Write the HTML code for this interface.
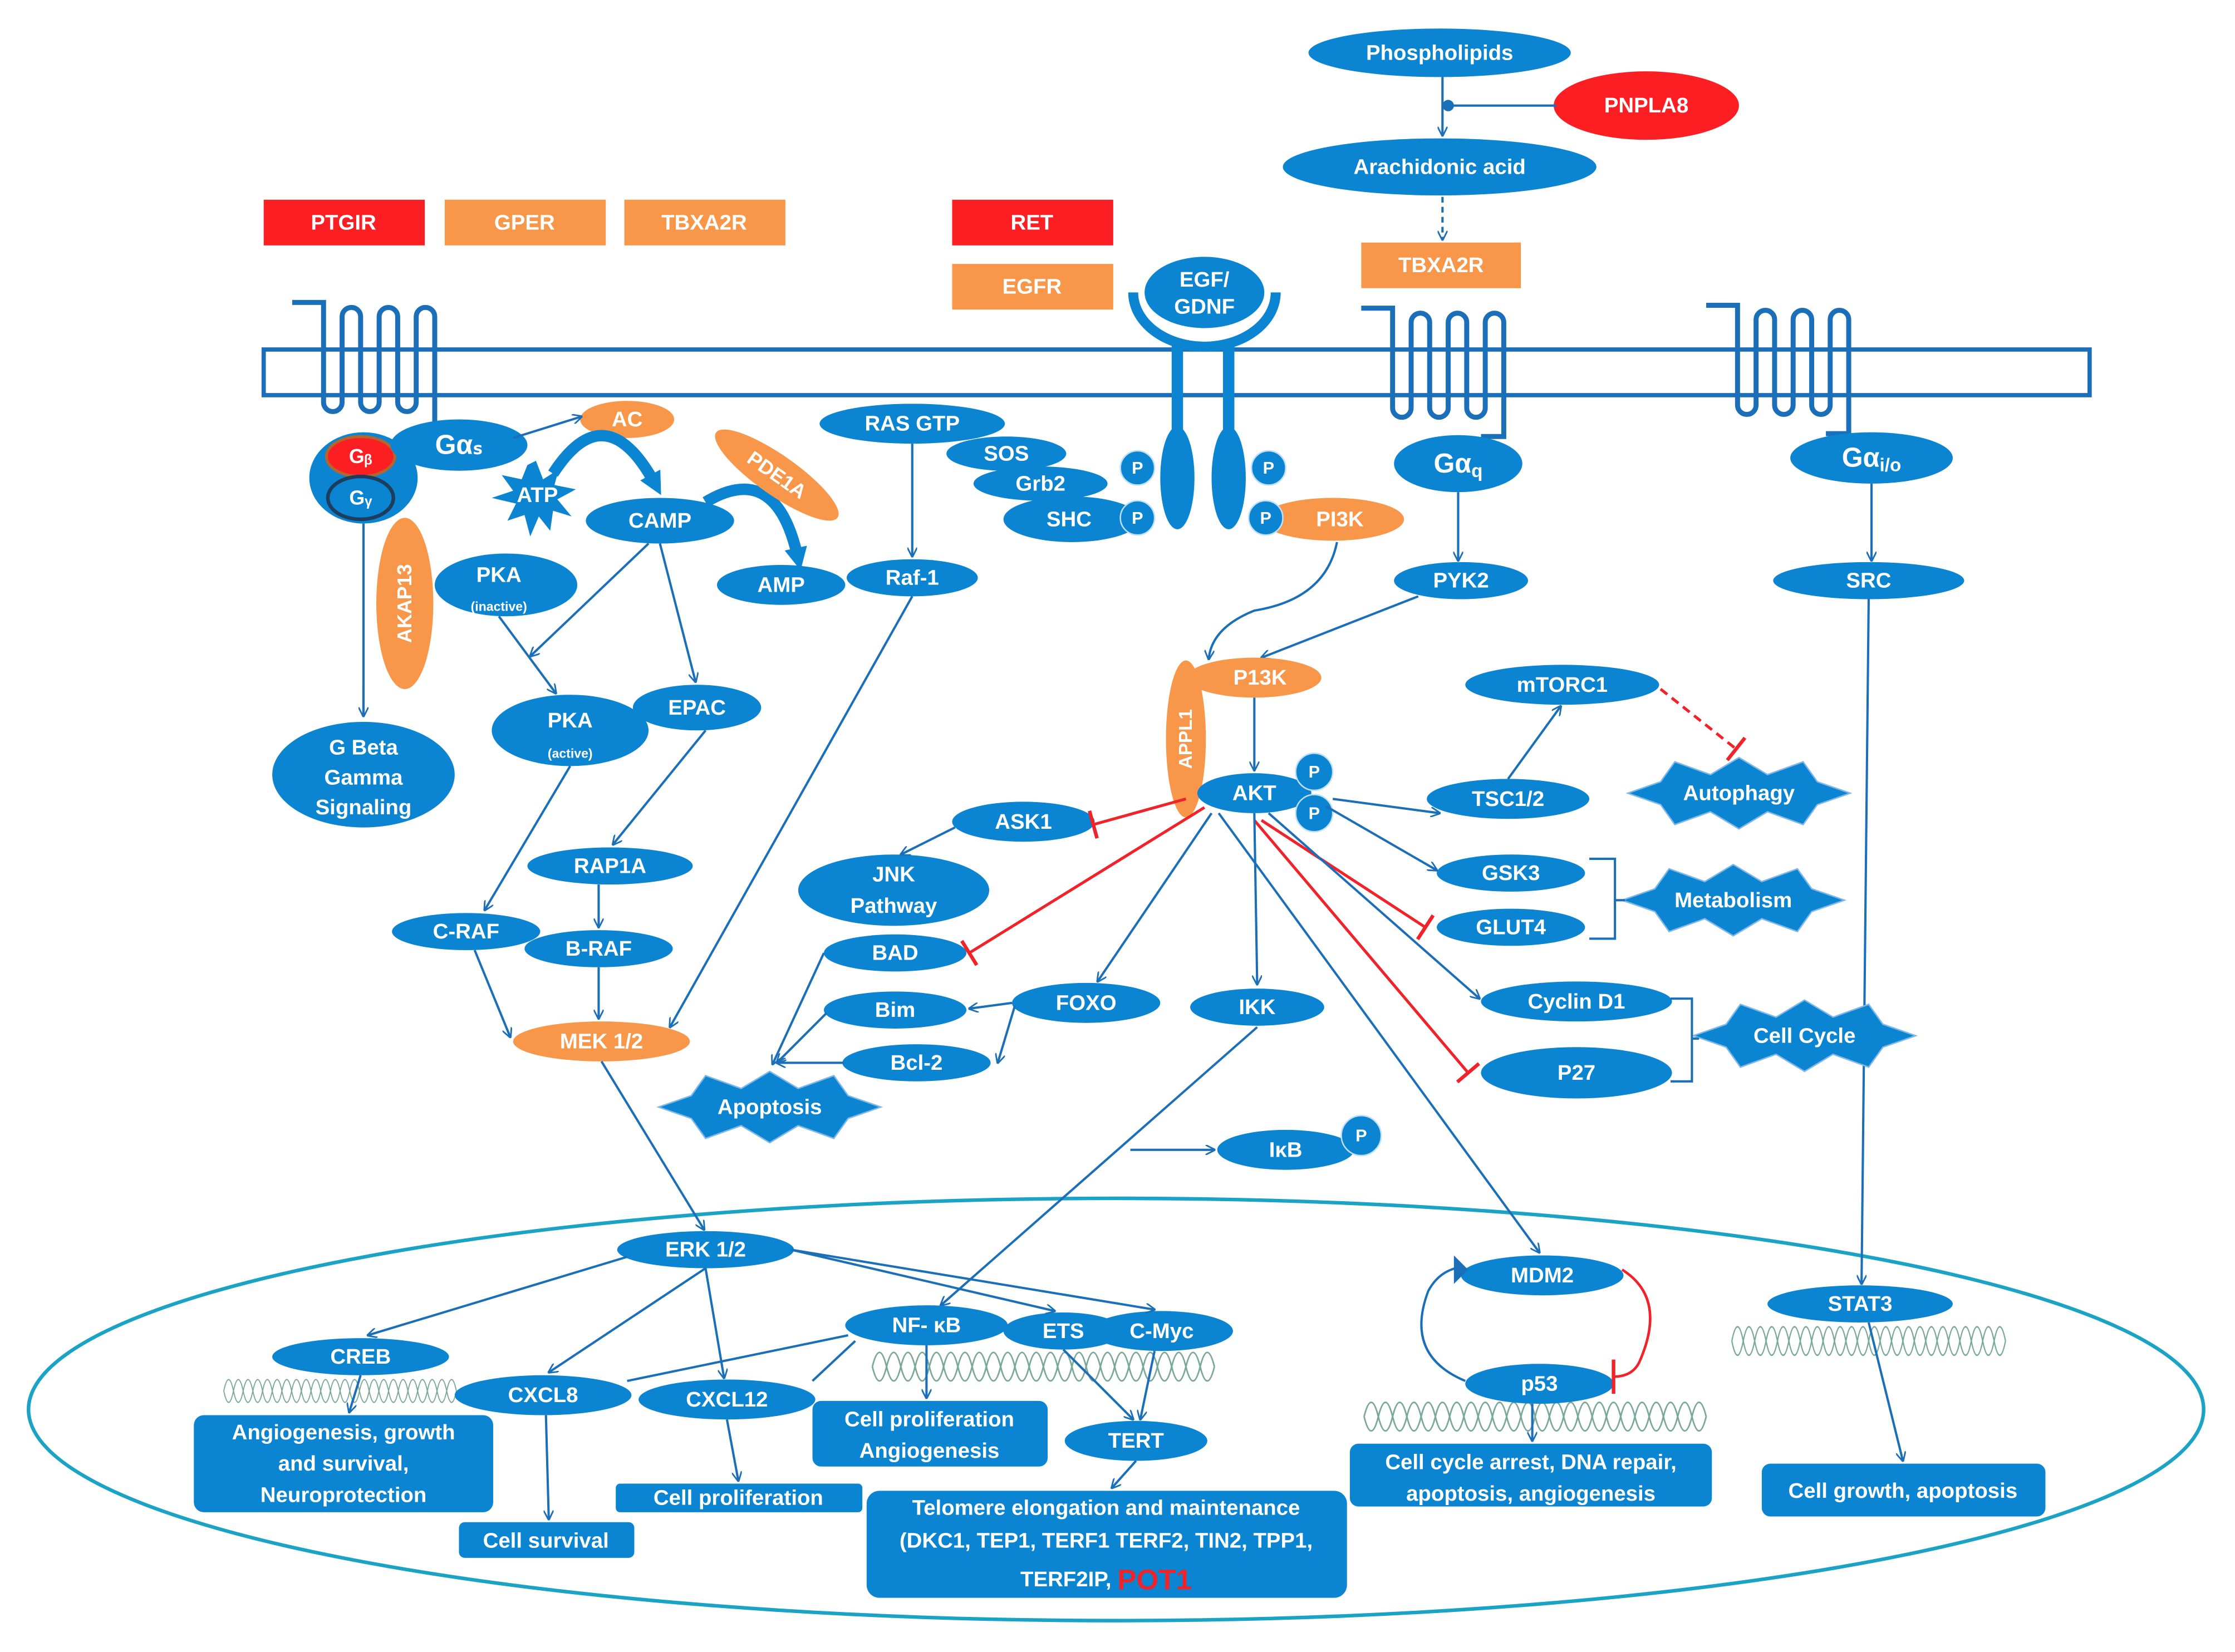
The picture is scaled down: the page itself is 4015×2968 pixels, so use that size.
<!DOCTYPE html>
<html><head><meta charset="utf-8"><style>
html,body{margin:0;padding:0;background:#fff}
svg{display:block}
text{font-family:"Liberation Sans Narrow","Liberation Sans",sans-serif;font-weight:bold;fill:#fff;text-anchor:middle;dominant-baseline:central}
.b{fill:#0b84d2}
.o{fill:#f8974a}
.r{fill:#fb1f24}
.l{stroke:#1b6fb8;stroke-width:1.6;fill:none;marker-end:url(#ar)}
.n{stroke:#1b6fb8;stroke-width:1.6;fill:none}
.i{stroke:#f0232a;stroke-width:2;fill:none;marker-end:url(#tb)}
.dna{stroke:#7aa89a;stroke-width:1.1;fill:none}
</style></head><body>
<svg width="4015" height="2968" viewBox="0 0 1568 1158" preserveAspectRatio="none" xmlns="http://www.w3.org/2000/svg">
<defs>
<marker id="ar" viewBox="0 0 10 10" refX="9" refY="5" markerWidth="7" markerHeight="7" orient="auto" markerUnits="userSpaceOnUse"><path d="M0,0 L10,5 L0,10" fill="none" stroke="#1b6fb8" stroke-width="1.6"/></marker>
<marker id="tb" viewBox="0 0 4 20" refX="2" refY="10" markerWidth="4" markerHeight="20" orient="auto" markerUnits="userSpaceOnUse"><path d="M2,0 V20" stroke="#f0232a" stroke-width="2.5"/></marker>
<marker id="ta" viewBox="0 0 10 10" refX="5" refY="5" markerWidth="16" markerHeight="16" orient="auto" markerUnits="userSpaceOnUse"><path d="M0,0 L10,5 L0,10 Z" fill="#0b84d2"/></marker>
<polygon id="star" points="-78,0 -55,-8 -45,-22 -20,-13 0,-25 20,-13 45,-22 55,-8 78,0 55,8 45,22 20,13 0,25 -20,13 -45,22 -55,8" fill="#0b84d2" stroke="#7fb8e8" stroke-width="1"/>
<path id="gpcr" d="M0,0 h22 v70 a6.5,6.5 0 0 0 13,0 v-60 a6.5,6.5 0 0 1 13,0 v60 a6.5,6.5 0 0 0 13,0 v-60 a6.5,6.5 0 0 1 13,0 v60 a6.5,6.5 0 0 0 13,0 v-60 a6.5,6.5 0 0 1 13,0 v80 h-16" fill="none" stroke="#1b6fb8" stroke-width="3.5"/>
<path id="dnaS" d="M0,0 q5,-20 10,0 t10,0 t10,0 t10,0 t10,0 t10,0 t10,0 t10,0 t10,0 t10,0 t10,0 t10,0 t10,0 t10,0 t10,0 t10,0 t10,0 t10,0 t10,0 t10,0 t10,0 t10,0 t10,0 t10,0" class="dna"/>
</defs>

<ellipse cx="783" cy="988" rx="763" ry="148" fill="none" stroke="#1ba3c6" stroke-width="2.5"/>

<rect x="185" y="245" width="1281" height="32" fill="none" stroke="#1b6fb8" stroke-width="3"/>
<use href="#gpcr" x="205" y="212"/>
<use href="#gpcr" x="955" y="216"/>
<use href="#gpcr" x="1197" y="214"/>

<ellipse class="b" cx="1010" cy="37" rx="92" ry="17"/><text x="1010" y="37" font-size="15">Phospholipids</text>
<ellipse class="r" cx="1155" cy="74" rx="65" ry="24"/><text x="1155" y="74" font-size="15">PNPLA8</text>
<ellipse class="b" cx="1010" cy="117" rx="110" ry="20"/><text x="1010" y="117" font-size="15">Arachidonic acid</text>
<line class="l" x1="1012" y1="54" x2="1012" y2="95"/>
<line class="n" x1="1016" y1="74" x2="1092" y2="74"/><circle cx="1016" cy="74" r="4" fill="#1b6fb8"/>
<line class="l" x1="1012" y1="138" x2="1012" y2="168" stroke-dasharray="4,3"/>
<rect class="o" x="955" y="170" width="112" height="32"/><text x="1011" y="186" font-size="15">TBXA2R</text>
<rect class="r" x="185" y="140" width="113" height="32"/><text x="241" y="156" font-size="15">PTGIR</text>
<rect class="o" x="312" y="140" width="113" height="32"/><text x="368" y="156" font-size="15">GPER</text>
<rect class="o" x="438" y="140" width="113" height="32"/><text x="494" y="156" font-size="15">TBXA2R</text>
<rect class="r" x="668" y="140" width="113" height="32"/><text x="724" y="156" font-size="15">RET</text>
<rect class="o" x="668" y="185" width="113" height="32"/><text x="724" y="201" font-size="15">EGFR</text>

<path d="M795,205 A50,38 0 0 0 895,205" fill="none" stroke="#0b84d2" stroke-width="7"/>
<ellipse class="b" cx="845" cy="205" rx="42" ry="25"/><text x="845" y="196" font-size="15">EGF/</text><text x="845" y="215" font-size="15">GDNF</text>
<rect class="b" x="822" y="240" width="8" height="80"/><rect class="b" x="858" y="240" width="8" height="80"/>
<ellipse class="b" cx="826" cy="335" rx="12" ry="36"/><ellipse class="b" cx="862" cy="335" rx="12" ry="36"/>
<ellipse class="b" cx="640" cy="297" rx="65" ry="14"/><text x="640" y="297" font-size="15">RAS GTP</text>
<ellipse class="b" cx="706" cy="318" rx="42" ry="12"/><text x="706" y="318" font-size="15">SOS</text>
<ellipse class="b" cx="730" cy="339" rx="47" ry="12"/><text x="730" y="339" font-size="15">Grb2</text>
<ellipse class="b" cx="752" cy="364" rx="48" ry="16"/><text x="750" y="364" font-size="15">SHC</text>
<ellipse class="o" cx="935" cy="364" rx="50" ry="15"/><text x="940" y="364" font-size="15">PI3K</text>
<circle cx="798" cy="328" r="12" class="b" stroke="#bfe0f8"/><text x="798" y="328" font-size="12">P</text>
<circle cx="890" cy="328" r="12" class="b" stroke="#bfe0f8"/><text x="890" y="328" font-size="12">P</text>
<circle cx="798" cy="363" r="12" class="b" stroke="#bfe0f8"/><text x="798" y="363" font-size="12">P</text>
<circle cx="888" cy="363" r="12" class="b" stroke="#bfe0f8"/><text x="888" y="363" font-size="12">P</text>
<ellipse class="b" cx="640" cy="405" rx="46" ry="13"/><text x="640" y="405" font-size="15">Raf-1</text>
<line class="l" x1="640" y1="311" x2="640" y2="390"/>

<ellipse class="b" cx="255" cy="335" rx="38" ry="32"/>
<ellipse class="r" cx="253" cy="320" rx="24" ry="14" stroke="#b5652e" stroke-width="2"/><text x="253" y="320" font-size="14">Gᵦ</text>
<ellipse class="b" cx="253" cy="349" rx="23" ry="15" stroke="#1c3d5e" stroke-width="2.5"/><text x="253" y="349" font-size="14">Gᵧ</text>
<ellipse class="b" cx="322" cy="312" rx="48" ry="18"/><text x="322" y="312" font-size="19">Gαₛ</text>
<ellipse class="o" cx="440" cy="294" rx="33" ry="13"/><text x="440" y="294" font-size="15">AC</text>
<line class="l" x1="360" y1="307" x2="408" y2="292"/>
<polygon class="b" points="376,323 381,336 392,329 389,340 404,343 391,350 401,362 388,358 386,372 378,362 372,376 368,361 356,365 362,353 345,349 360,344 352,333 366,336 370,326"/>
<text x="377" y="347" font-size="15">ATP</text>
<path d="M388,332 Q425,275 460,340" fill="none" stroke="#0b84d2" stroke-width="8" marker-end="url(#ta)"/>
<path d="M495,352 Q545,322 560,392" fill="none" stroke="#0b84d2" stroke-width="8" marker-end="url(#ta)"/>
<ellipse class="b" cx="463" cy="365" rx="52" ry="16"/><text x="463" y="365" font-size="15">CAMP</text>
<ellipse class="o" cx="545" cy="333" rx="52" ry="14" transform="rotate(35 545 333)"/><text x="545" y="333" font-size="14" transform="rotate(35 545 333)">PDE1A</text>
<ellipse class="b" cx="548" cy="410" rx="45" ry="14"/><text x="548" y="410" font-size="15">AMP</text>
<ellipse class="o" cx="284" cy="423" rx="20" ry="60"/><text x="284" y="423" font-size="14" transform="rotate(-90 284 423)">AKAP13</text>
<ellipse class="b" cx="355" cy="410" rx="50" ry="22"/><text x="350" y="403" font-size="15">PKA</text><text x="350" y="425" font-size="9">(inactive)</text>
<line class="n" x1="255" y1="367" x2="255" y2="500"/><line class="l" x1="255" y1="480" x2="255" y2="502"/>
<ellipse class="b" cx="255" cy="543" rx="64" ry="37"/><text x="255" y="524" font-size="15">G Beta</text><text x="255" y="545" font-size="15">Gamma</text><text x="255" y="566" font-size="15">Signaling</text>
<ellipse class="b" cx="400" cy="512" rx="55" ry="25"/><text x="400" y="505" font-size="15">PKA</text><text x="400" y="528" font-size="9">(active)</text>
<ellipse class="b" cx="489" cy="496" rx="45" ry="16"/><text x="489" y="496" font-size="15">EPAC</text>
<line class="l" x1="455" y1="381" x2="372" y2="460"/>
<line class="l" x1="463" y1="381" x2="488" y2="478"/>
<line class="l" x1="350" y1="432" x2="390" y2="486"/>
<ellipse class="b" cx="428" cy="607" rx="58" ry="13"/><text x="428" y="607" font-size="15">RAP1A</text>
<ellipse class="b" cx="327" cy="653" rx="52" ry="13"/><text x="327" y="653" font-size="15">C-RAF</text>
<ellipse class="b" cx="420" cy="665" rx="52" ry="13"/><text x="420" y="665" font-size="15">B-RAF</text>
<ellipse class="o" cx="422" cy="730" rx="62" ry="14"/><text x="422" y="730" font-size="15">MEK 1/2</text>
<line class="l" x1="400" y1="537" x2="340" y2="638"/>
<line class="l" x1="495" y1="512" x2="430" y2="592"/>
<line class="l" x1="420" y1="620" x2="420" y2="650"/>
<line class="l" x1="333" y1="666" x2="358" y2="727"/>
<line class="l" x1="420" y1="678" x2="420" y2="714"/>
<line class="l" x1="640" y1="418" x2="470" y2="720"/>
<line class="l" x1="422" y1="744" x2="494" y2="862"/>

<ellipse class="b" cx="1023" cy="325" rx="45" ry="20"/><text x="1023" y="325" font-size="19">Gα<tspan font-size="13" dy="5">q</tspan></text>
<ellipse class="b" cx="1025" cy="407" rx="47" ry="13"/><text x="1025" y="407" font-size="15">PYK2</text>
<ellipse class="b" cx="1313" cy="321" rx="57" ry="18"/><text x="1313" y="321" font-size="19">Gα<tspan font-size="13" dy="5">i/o</tspan></text>
<ellipse class="b" cx="1311" cy="407" rx="67" ry="13"/><text x="1311" y="407" font-size="15">SRC</text>
<line class="l" x1="1023" y1="345" x2="1023" y2="393"/>
<line class="l" x1="1313" y1="339" x2="1313" y2="393"/>
<line class="l" x1="1311" y1="420" x2="1306" y2="900"/>
<path class="l" d="M938,380 Q930,420 880,428 Q850,440 848,462"/>
<line class="l" x1="995" y1="418" x2="885" y2="461"/>

<ellipse class="o" cx="880" cy="475" rx="47" ry="14"/><text x="884" y="475" font-size="15">P13K</text>
<ellipse class="o" cx="832" cy="518" rx="14" ry="55"/><text x="832" y="518" font-size="13" transform="rotate(-90 832 518)">APPL1</text>
<line class="l" x1="880" y1="489" x2="880" y2="540"/>
<ellipse class="b" cx="880" cy="556" rx="40" ry="14"/><text x="880" y="556" font-size="15">AKT</text>
<circle cx="922" cy="541" r="13" class="b" stroke="#bfe0f8"/><text x="922" y="541" font-size="12">P</text>
<circle cx="922" cy="570" r="13" class="b" stroke="#bfe0f8"/><text x="922" y="570" font-size="12">P</text>
<ellipse class="b" cx="1096" cy="480" rx="68" ry="14"/><text x="1096" y="480" font-size="15">mTORC1</text>
<ellipse class="b" cx="1058" cy="560" rx="57" ry="14"/><text x="1058" y="560" font-size="15">TSC1/2</text>
<use href="#star" x="1220" y="556"/><text x="1220" y="556" font-size="15">Autophagy</text>
<ellipse class="b" cx="1060" cy="612" rx="52" ry="13"/><text x="1060" y="612" font-size="15">GSK3</text>
<ellipse class="b" cx="1060" cy="650" rx="52" ry="13"/><text x="1060" y="650" font-size="15">GLUT4</text>
<use href="#star" x="1216" y="631"/><text x="1216" y="631" font-size="15">Metabolism</text>
<ellipse class="b" cx="1106" cy="702" rx="67" ry="14"/><text x="1106" y="702" font-size="15">Cyclin D1</text>
<ellipse class="b" cx="1106" cy="752" rx="67" ry="18"/><text x="1106" y="752" font-size="15">P27</text>
<use href="#star" x="1266" y="726"/><text x="1266" y="726" font-size="15">Cell Cycle</text>
<path class="n" d="M1115,602 H1133 V658 H1115 M1133,631 H1140"/>
<path class="n" d="M1172,700 H1187 V758 H1172 M1187,728 H1192"/>
<line class="l" x1="935" y1="560" x2="1010" y2="570"/>
<line class="l" x1="1058" y1="546" x2="1095" y2="495"/>
<line class="i" x1="1165" y1="483" x2="1218" y2="525" stroke-dasharray="6,4"/>
<line class="l" x1="930" y1="565" x2="1008" y2="610"/>
<line class="i" x1="885" y1="575" x2="1000" y2="650"/>
<line class="l" x1="890" y1="570" x2="1038" y2="700"/>
<line class="i" x1="880" y1="575" x2="1030" y2="752"/>

<ellipse class="b" cx="718" cy="576" rx="50" ry="14"/><text x="718" y="576" font-size="15">ASK1</text>
<ellipse class="b" cx="627" cy="624" rx="67" ry="25"/><text x="627" y="613" font-size="15">JNK</text><text x="627" y="635" font-size="15">Pathway</text>
<ellipse class="b" cx="628" cy="668" rx="50" ry="13"/><text x="628" y="668" font-size="15">BAD</text>
<ellipse class="b" cx="628" cy="708" rx="50" ry="13"/><text x="628" y="708" font-size="15">Bim</text>
<ellipse class="b" cx="643" cy="745" rx="52" ry="13"/><text x="643" y="745" font-size="15">Bcl-2</text>
<use href="#star" x="540" y="776"/><text x="540" y="776" font-size="15">Apoptosis</text>
<ellipse class="b" cx="762" cy="703" rx="52" ry="14"/><text x="762" y="703" font-size="15">FOXO</text>
<ellipse class="b" cx="882" cy="706" rx="47" ry="13"/><text x="882" y="706" font-size="15">IKK</text>
<ellipse class="b" cx="902" cy="806" rx="48" ry="14"/><text x="902" y="806" font-size="15">IκB</text>
<circle cx="955" cy="796" r="14" class="b" stroke="#bfe0f8"/><text x="955" y="796" font-size="12">P</text>
<line class="l" x1="793" y1="806" x2="852" y2="806"/>
<line class="i" x1="832" y1="560" x2="767" y2="578"/>
<line class="i" x1="845" y1="566" x2="680" y2="668"/>
<line class="l" x1="670" y1="580" x2="632" y2="599"/>
<line class="l" x1="880" y1="570" x2="882" y2="690"/>
<line class="l" x1="850" y1="570" x2="770" y2="688"/>
<line class="l" x1="855" y1="570" x2="1080" y2="878"/>
<line class="l" x1="578" y1="668" x2="542" y2="746"/>
<line class="l" x1="580" y1="710" x2="545" y2="745"/>
<line class="l" x1="592" y1="745" x2="545" y2="745"/>
<path class="l" d="M710,703 L680,707"/><path class="l" d="M712,705 L700,745"/>
<line class="l" x1="882" y1="720" x2="660" y2="915"/>

<g transform="translate(157,975) scale(0.68,0.8)"><use href="#dnaS"/><use href="#dnaS" transform="scale(1,-1)"/></g>
<g transform="translate(612,958)"><use href="#dnaS"/><use href="#dnaS" transform="scale(1,-1)"/></g>
<g transform="translate(957,993)"><use href="#dnaS"/><use href="#dnaS" transform="scale(1,-1)"/></g>
<g transform="translate(1215,940) scale(0.8,1)"><use href="#dnaS"/><use href="#dnaS" transform="scale(1,-1)"/></g>

<ellipse class="b" cx="495" cy="876" rx="62" ry="13"/><text x="495" y="876" font-size="15">ERK 1/2</text>
<ellipse class="b" cx="253" cy="951" rx="62" ry="13"/><text x="253" y="951" font-size="15">CREB</text>
<ellipse class="b" cx="381" cy="978" rx="62" ry="14"/><text x="381" y="978" font-size="15">CXCL8</text>
<ellipse class="b" cx="510" cy="981" rx="62" ry="14"/><text x="510" y="981" font-size="15">CXCL12</text>
<ellipse class="b" cx="650" cy="929" rx="57" ry="14"/><text x="650" y="929" font-size="15">NF- κB</text>
<ellipse class="b" cx="746" cy="933" rx="42" ry="13"/><text x="746" y="933" font-size="15">ETS</text>
<ellipse class="b" cx="815" cy="933" rx="50" ry="14"/><text x="815" y="933" font-size="15">C-Myc</text>
<ellipse class="b" cx="797" cy="1010" rx="50" ry="14"/><text x="797" y="1010" font-size="15">TERT</text>
<ellipse class="b" cx="1082" cy="894" rx="57" ry="14"/><text x="1082" y="894" font-size="15">MDM2</text>
<ellipse class="b" cx="1080" cy="970" rx="52" ry="14"/><text x="1080" y="970" font-size="15">p53</text>
<ellipse class="b" cx="1305" cy="914" rx="65" ry="13"/><text x="1305" y="914" font-size="15">STAT3</text>
<path class="n" d="M1028,968 Q985,950 1002,905 Q1010,890 1026,888" stroke-width="1.8"/>
<polygon points="1020,880 1030,890 1020,900" fill="#1b6fb8"/>
<path d="M1138,890 Q1170,910 1150,955 Q1145,965 1132,965" fill="none" stroke="#f0232a" stroke-width="1.8"/>
<line x1="1132" y1="953" x2="1132" y2="977" stroke="#f0232a" stroke-width="2.5"/>

<line class="l" x1="440" y1="881" x2="258" y2="936"/>
<line class="l" x1="495" y1="889" x2="385" y2="962"/>
<line class="l" x1="495" y1="889" x2="508" y2="966"/>
<line class="l" x1="555" y1="876" x2="740" y2="919"/>
<line class="l" x1="555" y1="876" x2="810" y2="918"/>
<line class="n" x1="595" y1="936" x2="440" y2="968"/>
<line class="n" x1="600" y1="940" x2="570" y2="968"/>
<line class="l" x1="253" y1="964" x2="245" y2="990"/>
<line class="l" x1="383" y1="992" x2="385" y2="1065"/>
<line class="l" x1="510" y1="995" x2="518" y2="1038"/>
<line class="l" x1="650" y1="943" x2="650" y2="980"/>
<line class="l" x1="746" y1="946" x2="795" y2="995"/>
<line class="l" x1="810" y1="947" x2="800" y2="995"/>
<line class="l" x1="797" y1="1024" x2="780" y2="1043"/>
<line class="l" x1="1075" y1="984" x2="1075" y2="1010"/>
<line class="l" x1="1311" y1="927" x2="1335" y2="1024"/>

<rect class="b" x="136" y="992" width="210" height="68" rx="7"/>
<text x="241" y="1004" font-size="15">Angiogenesis, growth</text><text x="241" y="1026" font-size="15">and survival,</text><text x="241" y="1048" font-size="15">Neuroprotection</text>
<rect class="b" x="322" y="1067" width="123" height="25" rx="4"/><text x="383" y="1080" font-size="15">Cell survival</text>
<rect class="b" x="432" y="1040" width="173" height="20" rx="3"/><text x="518" y="1050" font-size="15">Cell proliferation</text>
<rect class="b" x="570" y="982" width="165" height="46" rx="6"/><text x="652" y="995" font-size="15">Cell proliferation</text><text x="652" y="1017" font-size="15">Angiogenesis</text>
<rect class="b" x="608" y="1045" width="337" height="75" rx="9"/>
<text x="776" y="1057" font-size="15">Telomere elongation and maintenance</text>
<text x="776" y="1080" font-size="15">(DKC1, TEP1, TERF1 TERF2, TIN2, TPP1,</text>
<text x="776" y="1107" font-size="15">TERF2IP, <tspan fill="#f0232a" font-size="20">POT1</tspan></text>
<rect class="b" x="947" y="1012" width="254" height="44" rx="6"/><text x="1074" y="1025" font-size="15">Cell cycle arrest, DNA repair,</text><text x="1074" y="1047" font-size="15">apoptosis, angiogenesis</text>
<rect class="b" x="1236" y="1026" width="199" height="37" rx="6"/><text x="1335" y="1045" font-size="15">Cell growth, apoptosis</text>
</svg>
</body></html>
